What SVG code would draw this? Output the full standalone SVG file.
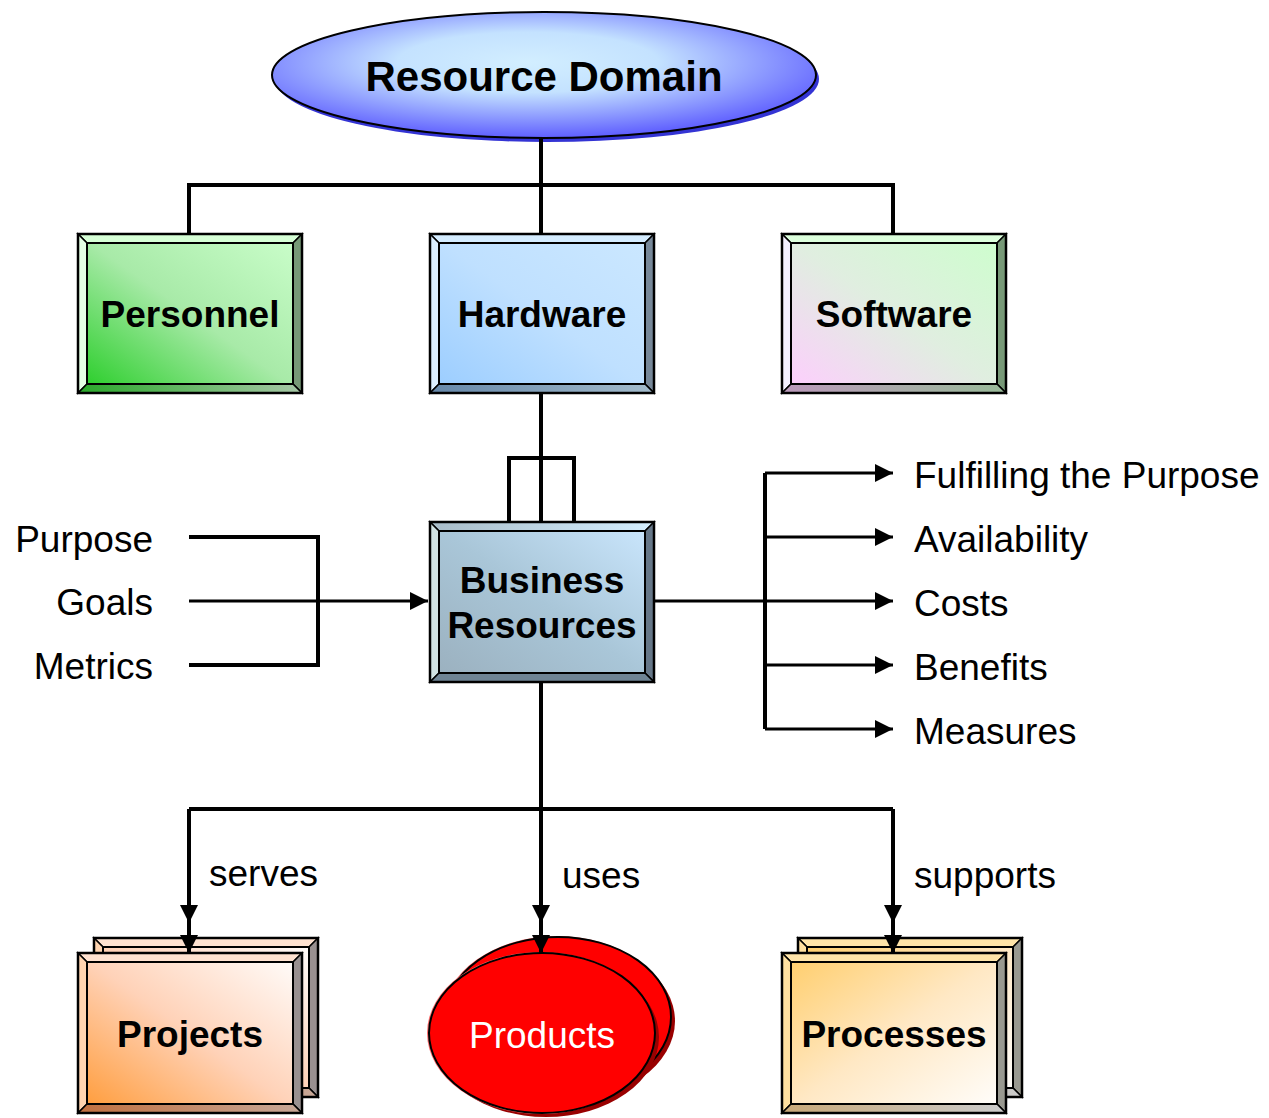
<svg xmlns="http://www.w3.org/2000/svg" width="1269" height="1118" viewBox="0 0 1269 1118">
<defs>
  <radialGradient id="gDomain" cx="0.47" cy="0.4" r="0.6">
    <stop offset="0" stop-color="#d2eeff"/>
    <stop offset="0.4" stop-color="#c4e2ff"/>
    <stop offset="1" stop-color="#5f5fff"/>
  </radialGradient>
  <linearGradient id="gPers" x1="0" y1="1" x2="1" y2="0">
    <stop offset="0" stop-color="#22cc22"/>
    <stop offset="0.5" stop-color="#a8eaa8"/>
    <stop offset="1" stop-color="#ccffcc"/>
  </linearGradient>
  <linearGradient id="gPersB" x1="0" y1="0" x2="1" y2="0">
    <stop offset="0" stop-color="#2aa82a"/>
    <stop offset="1" stop-color="#a8c8a8"/>
  </linearGradient>
  <linearGradient id="gHw" x1="0" y1="1" x2="1" y2="0">
    <stop offset="0" stop-color="#99ccff"/>
    <stop offset="0.5" stop-color="#bfe0ff"/>
    <stop offset="1" stop-color="#cce8ff"/>
  </linearGradient>
  <linearGradient id="gHwB" x1="0" y1="0" x2="1" y2="0">
    <stop offset="0" stop-color="#6688aa"/>
    <stop offset="1" stop-color="#a4bccc"/>
  </linearGradient>
  <linearGradient id="gSw" x1="0" y1="1" x2="1" y2="0">
    <stop offset="0" stop-color="#ffccff"/>
    <stop offset="0.5" stop-color="#e0eee0"/>
    <stop offset="1" stop-color="#ccffcc"/>
  </linearGradient>
  <linearGradient id="gSwB" x1="0" y1="0" x2="1" y2="0">
    <stop offset="0" stop-color="#bb99bb"/>
    <stop offset="1" stop-color="#99bb99"/>
  </linearGradient>
  <linearGradient id="gBiz" x1="0" y1="1" x2="1" y2="0">
    <stop offset="0" stop-color="#9aafbd"/>
    <stop offset="0.5" stop-color="#a9c6d8"/>
    <stop offset="1" stop-color="#cce8ff"/>
  </linearGradient>
  <linearGradient id="gBizT" x1="0" y1="0" x2="1" y2="0">
    <stop offset="0" stop-color="#a8bcc8"/>
    <stop offset="1" stop-color="#d4eeff"/>
  </linearGradient>
  <linearGradient id="gProj" x1="0" y1="1" x2="1" y2="0">
    <stop offset="0" stop-color="#ff9933"/>
    <stop offset="0.5" stop-color="#ffd2b8"/>
    <stop offset="1" stop-color="#ffffff"/>
  </linearGradient>
  <linearGradient id="gProjB" x1="0" y1="0" x2="1" y2="0">
    <stop offset="0" stop-color="#c07040"/>
    <stop offset="1" stop-color="#c8a898"/>
  </linearGradient>
  <linearGradient id="gProc" x1="0" y1="0" x2="1" y2="1">
    <stop offset="0" stop-color="#ffcc66"/>
    <stop offset="0.5" stop-color="#ffe8c4"/>
    <stop offset="1" stop-color="#ffffff"/>
  </linearGradient>
  <linearGradient id="gProcB" x1="0" y1="0" x2="1" y2="0">
    <stop offset="0" stop-color="#c8a878"/>
    <stop offset="1" stop-color="#cccccc"/>
  </linearGradient>
  <marker id="arr" markerUnits="userSpaceOnUse" markerWidth="18" markerHeight="18" viewBox="0 0 16 16" refX="16" refY="8" orient="auto">
    <path d="M0,0 L16,8 L0,16 z" fill="#000"/>
  </marker>
</defs>
<style>
  .bx { stroke: #000; stroke-width: 1.5; stroke-linejoin: miter; }
  .edge { fill: none; stroke: #000; stroke-width: 2.5; }
  .inner { fill: none; stroke: #000; stroke-width: 2; }
  .bold { font-family: "Liberation Sans", Arial, sans-serif; font-weight: bold; font-size: 37px; fill: #000; text-anchor: middle; }
  .title { font-size: 42px; }
  .lbl { font-family: "Liberation Sans", Arial, sans-serif; font-size: 37px; fill: #000; }
  .ln { fill: none; stroke: #000; stroke-width: 4; }
  .thin { fill: none; stroke: #000; stroke-width: 3; }
</style>

<!-- Resource Domain -->
<g id="resource-domain">
  <ellipse cx="547" cy="79" rx="272" ry="63" fill="#3434d4"/>
  <ellipse cx="544" cy="75" rx="272" ry="63" fill="url(#gDomain)" stroke="#000" stroke-width="2"/>
  <text class="bold title" x="544" y="91">Resource Domain</text>
</g>

<!-- Personnel -->
<g id="personnel" transform="translate(78,234)">
  <rect x="0" y="0" width="224" height="159" fill="url(#gPers)"/>
  <polygon class="bx" points="0,0 224,0 215,9 9,9" fill="#d6ffd6"/>
  <polygon class="bx" points="0,0 9,9 9,150 0,159" fill="#e4ffe4"/>
  <polygon class="bx" points="224,0 224,159 215,150 215,9" fill="#779977"/>
  <polygon class="bx" points="0,159 9,150 215,150 224,159" fill="url(#gPersB)"/>
  <rect class="edge" x="0" y="0" width="224" height="159"/>
  <rect class="inner" x="9" y="9" width="206" height="141"/>
  <text class="bold" x="112" y="93">Personnel</text>
</g>

<!-- Hardware -->
<g id="hardware" transform="translate(430,234)">
  <rect x="0" y="0" width="224" height="159" fill="url(#gHw)"/>
  <polygon class="bx" points="0,0 224,0 215,9 9,9" fill="#d4ecff"/>
  <polygon class="bx" points="0,0 9,9 9,150 0,159" fill="#dcefff"/>
  <polygon class="bx" points="224,0 224,159 215,150 215,9" fill="#778899"/>
  <polygon class="bx" points="0,159 9,150 215,150 224,159" fill="url(#gHwB)"/>
  <rect class="edge" x="0" y="0" width="224" height="159"/>
  <rect class="inner" x="9" y="9" width="206" height="141"/>
  <text class="bold" x="112" y="93">Hardware</text>
</g>

<!-- Software -->
<g id="software" transform="translate(782,234)">
  <rect x="0" y="0" width="224" height="159" fill="url(#gSw)"/>
  <polygon class="bx" points="0,0 224,0 215,9 9,9" fill="#dcffdc"/>
  <polygon class="bx" points="0,0 9,9 9,150 0,159" fill="#f4f0ff"/>
  <polygon class="bx" points="224,0 224,159 215,150 215,9" fill="#779977"/>
  <polygon class="bx" points="0,159 9,150 215,150 224,159" fill="url(#gSwB)"/>
  <rect class="edge" x="0" y="0" width="224" height="159"/>
  <rect class="inner" x="9" y="9" width="206" height="141"/>
  <text class="bold" x="112" y="93">Software</text>
</g>

<!-- Business Resources -->
<g id="business-resources" transform="translate(430,522)">
  <rect x="0" y="0" width="224" height="160" fill="url(#gBiz)"/>
  <polygon class="bx" points="0,0 224,0 215,9 9,9" fill="url(#gBizT)"/>
  <polygon class="bx" points="0,0 9,9 9,151 0,160" fill="#d0e2e2"/>
  <polygon class="bx" points="224,0 224,160 215,151 215,9" fill="#667788"/>
  <polygon class="bx" points="0,160 9,151 215,151 224,160" fill="#6f8494"/>
  <rect class="edge" x="0" y="0" width="224" height="160"/>
  <rect class="inner" x="9" y="9" width="206" height="142"/>
  <text class="bold" x="112" y="71">Business</text>
  <text class="bold" x="112" y="116">Resources</text>
</g>

<!-- Inputs -->
<g id="inputs">
  <text class="lbl" x="153" y="552" text-anchor="end">Purpose</text>
  <text class="lbl" x="153" y="615" text-anchor="end">Goals</text>
  <text class="lbl" x="153" y="679" text-anchor="end">Metrics</text>
</g>

<!-- Outputs -->
<g id="outputs">
  <text class="lbl" x="914" y="488">Fulfilling the Purpose</text>
  <text class="lbl" x="914" y="552">Availability</text>
  <text class="lbl" x="914" y="616">Costs</text>
  <text class="lbl" x="914" y="680">Benefits</text>
  <text class="lbl" x="914" y="744">Measures</text>
</g>

<!-- Projects -->
<g id="projects">
  <g transform="translate(94,938)">
    <rect x="0" y="0" width="224" height="159" fill="url(#gProj)"/>
    <polygon class="bx" points="0,0 224,0 215,9 9,9" fill="#ffe2d0"/>
    <polygon class="bx" points="0,0 9,9 9,150 0,159" fill="#ffd4b0"/>
    <polygon class="bx" points="224,0 224,159 215,150 215,9" fill="#999090"/>
    <polygon class="bx" points="0,159 9,150 215,150 224,159" fill="url(#gProjB)"/>
    <rect class="edge" x="0" y="0" width="224" height="159"/>
    <rect class="inner" x="9" y="9" width="206" height="141"/>
  </g>
  <g transform="translate(78,953)">
    <rect x="0" y="0" width="224" height="160" fill="url(#gProj)"/>
    <polygon class="bx" points="0,0 224,0 215,9 9,9" fill="#ffe2d0"/>
    <polygon class="bx" points="0,0 9,9 9,151 0,160" fill="#ffd4b0"/>
    <polygon class="bx" points="224,0 224,160 215,151 215,9" fill="#999090"/>
    <polygon class="bx" points="0,160 9,151 215,151 224,160" fill="url(#gProjB)"/>
    <rect class="edge" x="0" y="0" width="224" height="160"/>
    <rect class="inner" x="9" y="9" width="206" height="142"/>
    <text class="bold" x="112" y="94">Projects</text>
  </g>
</g>

<!-- Products -->
<g id="products">
  <ellipse cx="562" cy="1021" rx="113" ry="80" fill="#990000"/>
  <ellipse cx="557" cy="1017" rx="114" ry="81" fill="#ff7070"/>
  <ellipse cx="558" cy="1017" rx="113" ry="80" fill="#ff0000" stroke="#000" stroke-width="2"/>
  <ellipse cx="546" cy="1037" rx="113" ry="80" fill="#990000"/>
  <ellipse cx="541" cy="1033" rx="114" ry="81" fill="#ff7070"/>
  <ellipse cx="542" cy="1033" rx="113" ry="80" fill="#ff0000" stroke="#000" stroke-width="2"/>
  <text x="542" y="1048" font-family="Liberation Sans, Arial, sans-serif" font-size="37" fill="#fff" text-anchor="middle">Products</text>
</g>

<!-- Processes -->
<g id="processes">
  <g transform="translate(798,938)">
    <rect x="0" y="0" width="224" height="159" fill="url(#gProc)"/>
    <polygon class="bx" points="0,0 224,0 215,9 9,9" fill="#ffe4a8"/>
    <polygon class="bx" points="0,0 9,9 9,150 0,159" fill="#ffe0a0"/>
    <polygon class="bx" points="224,0 224,159 215,150 215,9" fill="#999990"/>
    <polygon class="bx" points="0,159 9,150 215,150 224,159" fill="url(#gProcB)"/>
    <rect class="edge" x="0" y="0" width="224" height="159"/>
    <rect class="inner" x="9" y="9" width="206" height="141"/>
  </g>
  <g transform="translate(782,953)">
    <rect x="0" y="0" width="224" height="160" fill="url(#gProc)"/>
    <polygon class="bx" points="0,0 224,0 215,9 9,9" fill="#ffe4a8"/>
    <polygon class="bx" points="0,0 9,9 9,151 0,160" fill="#ffe0a0"/>
    <polygon class="bx" points="224,0 224,160 215,151 215,9" fill="#999990"/>
    <polygon class="bx" points="0,160 9,151 215,151 224,160" fill="url(#gProcB)"/>
    <rect class="edge" x="0" y="0" width="224" height="160"/>
    <rect class="inner" x="9" y="9" width="206" height="142"/>
    <text class="bold" x="112" y="94">Processes</text>
  </g>
</g>

<!-- Connectors -->
<g id="connectors">
  <path class="ln" d="M541,139 V234"/>
  <path class="ln" d="M189,234 V185 H893 V234"/>
  <path class="ln" d="M541,393 V522"/>
  <path class="ln" d="M509,522 V458 H574 V522"/>
  <path class="ln" d="M189,537 H318 V665 H189"/>
  <path class="thin" d="M189,601 H428" marker-end="url(#arr)"/>
  <path class="thin" d="M654,601 H893" marker-end="url(#arr)"/>
  <path class="ln" d="M765,473 V729"/>
  <path class="thin" d="M765,473 H893" marker-end="url(#arr)"/>
  <path class="thin" d="M765,537 H893" marker-end="url(#arr)"/>
  <path class="thin" d="M765,665 H893" marker-end="url(#arr)"/>
  <path class="thin" d="M765,729 H893" marker-end="url(#arr)"/>
  <path class="ln" d="M541,682 V809"/>
  <path class="ln" d="M189,809 H893"/>
  <path class="ln" d="M189,809 V923 V953" marker-mid="url(#arr)" marker-end="url(#arr)"/>
  <path class="ln" d="M541,809 V923 V953" marker-mid="url(#arr)" marker-end="url(#arr)"/>
  <path class="ln" d="M893,809 V923 V953" marker-mid="url(#arr)" marker-end="url(#arr)"/>
  <text class="lbl" x="209" y="886">serves</text>
  <text class="lbl" x="562" y="888">uses</text>
  <text class="lbl" x="914" y="888">supports</text>
</g>
</svg>
